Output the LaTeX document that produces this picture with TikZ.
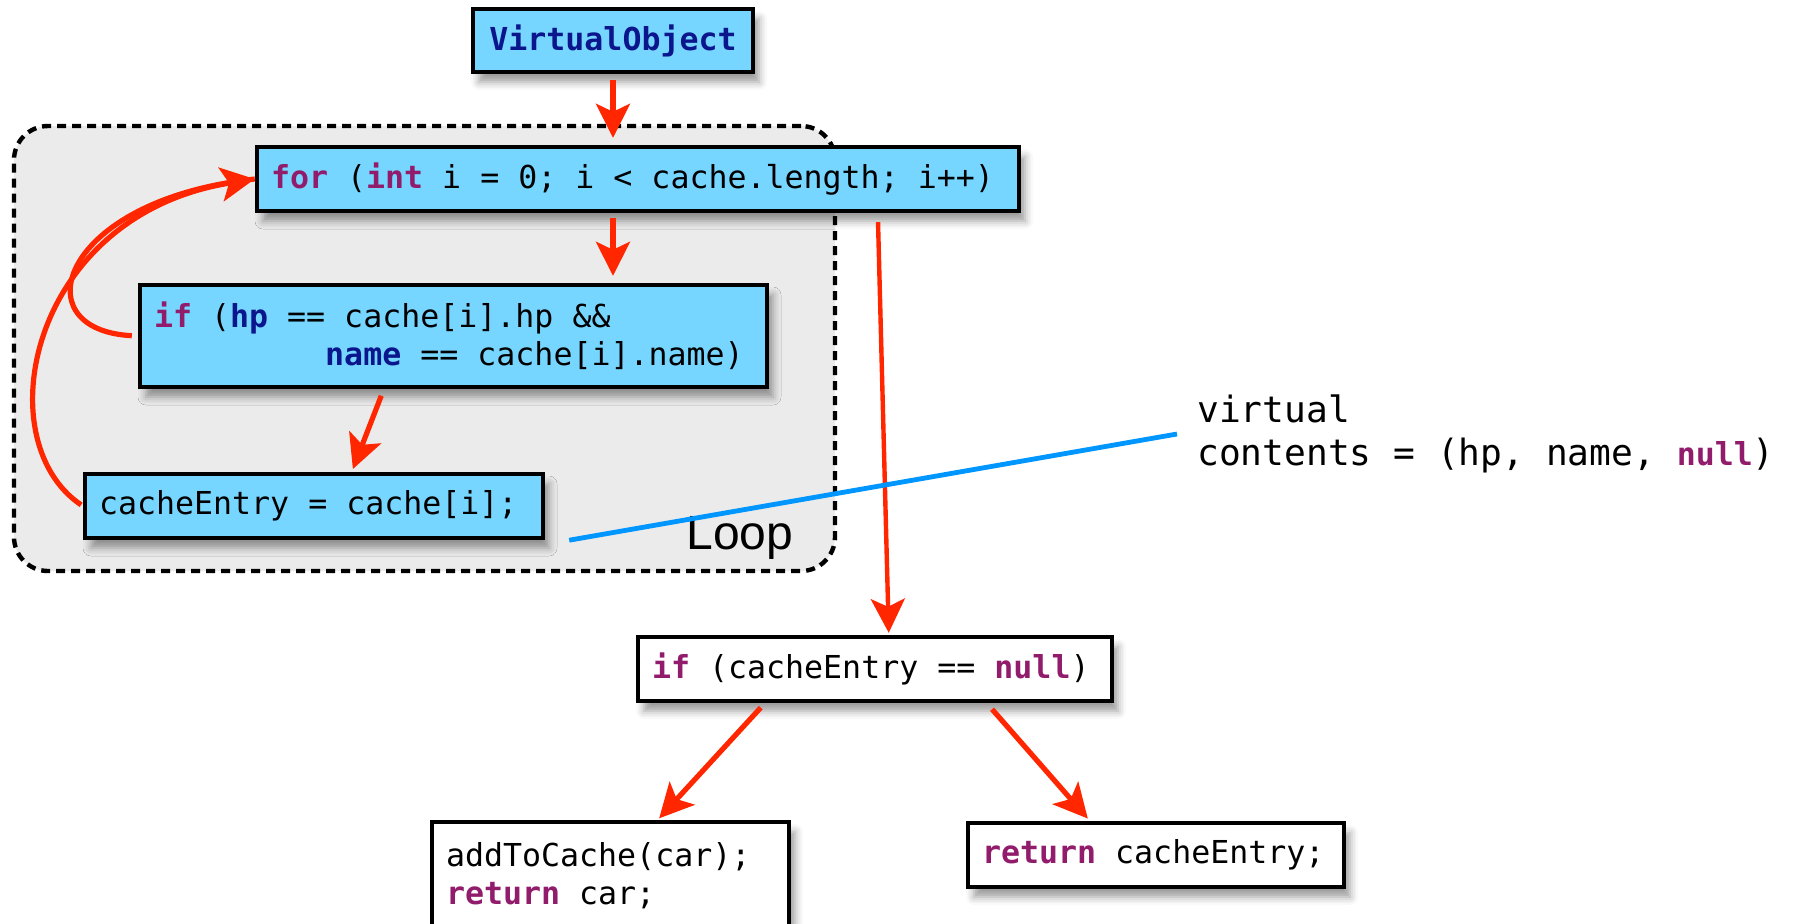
\documentclass[tikz,border=0pt]{standalone}
\usepackage{fontspec}
\setmonofont{DejaVu Sans Mono}
\newfontfamily\labelsans{Liberation Sans}
\usepackage{tikz}
\usetikzlibrary{positioning,arrows.meta,calc,shadows.blur}
\definecolor{sky}{RGB}{118,214,255}
\definecolor{kwpurple}{RGB}{146,28,108}
\definecolor{idblue}{RGB}{12,22,140}
\definecolor{arrred}{RGB}{255,38,0}
\definecolor{lineblue}{RGB}{0,150,255}
\definecolor{loopgray}{RGB}{235,235,235}
\newcommand{\kw}[1]{\textcolor{kwpurple}{\bfseries #1}}
\newcommand{\vn}[1]{\textcolor{idblue}{\bfseries #1}}
\newcommand{\codesize}{\ttfamily\fontsize{15.8}{18.8}\selectfont}
\tikzset{
  code/.style    = {rectangle, draw, line width=2.2pt, fill=white,
                    inner xsep=7pt, inner ysep=4pt, minimum height=32pt,
                    align=left, font=\codesize,
                    execute at begin node={\spaceskip=0pt\xspaceskip=0pt},
                    blur shadow={shadow xshift=3pt, shadow yshift=-5pt,
                                 shadow blur radius=4pt, shadow opacity=40}},
  hot/.style     = {code, fill=sky},
  arr/.style     = {-{Stealth[length=17pt,width=17pt,inset=4pt]},
                    line width=2.6pt, draw=arrred},
  link/.style    = {line width=2.4pt, draw=lineblue},
  loopbox/.style = {rectangle, draw, line width=2.2pt, fill=loopgray,
                    dash pattern=on 4.5pt off 3pt, rounded corners=17pt},
  note/.style    = {anchor=west, inner xsep=5pt, align=left,
                    execute at begin node={\spaceskip=0pt\xspaceskip=0pt},
                    font=\ttfamily\fontsize{18.1}{21.2}\selectfont}
}
\begin{document}
\begin{tikzpicture}[x=0.5pt,y=-0.5pt]
    \useasboundingbox (0,0) rectangle (1800,923);
    % loop region
    \node[loopbox, minimum width=410.5pt, minimum height=222.5pt] (loop) at (424.5,348.5) {};
    \node[anchor=base west, inner sep=0, font=\labelsans\fontsize{24}{28}\selectfont] (looplbl) at (686,549) {Loop};
    % code boxes
    \node[hot, minimum width=140pt, minimum height=31.5pt] (vobj) at (613,40.5) {\vn{VirtualObject}};
    \node[hot, text width=367pt] (forl) at (638,179) {\kw{for} (\kw{int} i = 0; i < cache.length; i++)};
    \node[hot, text width=299.5pt, minimum height=51pt] (test) at (453.5,336)
        {\kw{if} (\vn{hp} == cache[i].hp \&\&\\\phantom{xxxxxxxxx}\vn{name} == cache[i].name)};
    \node[hot, text width=215pt] (entry) at (314,506) {cacheEntry = cache[i];};
    \node[code, text width=223pt] (nullchk) at (875,669) {\kw{if} (cacheEntry == \kw{null})};
    \node[code, text width=164.5pt, minimum height=53.5pt] (add) at (610.5,875.5) {addToCache(car);\\\kw{return} car;};
    \node[code, text width=174pt] (ret) at (1156,855) {\kw{return} cacheEntry;};
    \node[note] (virt) at (1187,434) {virtual\\contents = (hp, name, {\fontsize{15.8}{18}\selectfont\kw{null}})};
    % flow
    \draw[arr, shorten <=3pt, shorten >=3.5pt] (vobj.south) -- (vobj.south |- forl.north);
    \draw[arr, shorten <=2.5pt, shorten >=3.5pt] (forl.south -| vobj.south) -- (test.north -| vobj.south);
    \draw[arr, shorten <=3.5pt, shorten >=1.5pt] ($(test.south west)+(246,0)$) -- ($(entry.north west)+(269,0)$);
    \draw[arr, -, shorten <=3pt] (test.west) .. controls (20,330) and (60,200) .. (forl.west);
    \draw[arr, shorten <=1pt] (entry.west) .. controls (-15,440) and (30,215) .. (forl.west);
    \draw[arr, line width=2.2pt, shorten <=4.5pt, shorten >=1pt] ($(forl.south west)+(623,0)$) -- ($(nullchk.north west)+(253,0)$);
    \draw[arr, shorten <=3pt, shorten >=1pt] ($(nullchk.south west)+(129,0)$) -- ($(add.north west)+(228,0)$);
    \draw[arr, shorten <=4pt, shorten >=1.5pt] ($(nullchk.south west)+(351,0)$) -- ($(ret.north west)+(124,0)$);
    \draw[link] ($(entry.south east)+(24,0)$) -- ([xshift=-5pt]virt.west);
\end{tikzpicture}
\end{document}
